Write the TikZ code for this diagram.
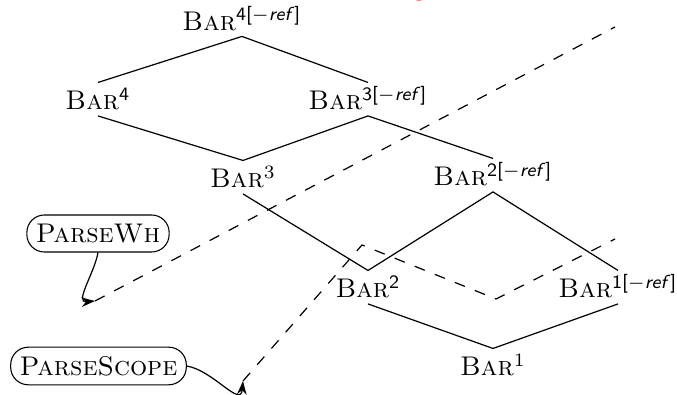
\documentclass[tikz,border=0pt]{standalone}
\usepackage{amsmath}
\usetikzlibrary{arrows.meta}
\newcommand{\Barx}[1]{\textsc{Bar}$^{#1}$}
\newcommand{\rsup}[1]{\textsf{#1[$-$\textit{ref}]}}
\begin{document}
\begin{tikzpicture}[x=0.3704pt,y=-0.3704pt,
  barnode/.style={anchor=base,inner sep=2pt,text height=8pt,text depth=0pt},
  callout/.style={draw,rounded corners=6.5pt,inner sep=3.33pt},
  solidedge/.style={line width=0.45pt},
  dashedge/.style={line width=0.45pt,dash pattern=on 4pt off 4pt},
  pointer/.style={line width=0.45pt,-{Stealth[length=5pt,width=3.5pt]}}]
\useasboundingbox (0,0) rectangle (677,395);
% cropped red title (only its descender is visible)
\node[red,anchor=base,inner sep=0pt] (ttl) at (419,-4.5) {g};
% nodes
\node[barnode] (b4r) at (242,30.5) {\Barx{\rsup{4}}};
\node[barnode] (b4)  at (98,110)   {\Barx{\textsf{4}}};
\node[barnode] (b3r) at (368,110)  {\Barx{\rsup{3}}};
\node[barnode] (b3)  at (243,188)  {\Barx{3}};
\node[barnode] (b2r) at (493,186)  {\Barx{\rsup{2}}};
\node[barnode] (b2)  at (368,298)  {\Barx{\textsf{2}}};
\node[barnode] (b1r) at (618,298)  {\Barx{\rsup{1}}};
\node[barnode] (b1)  at (493,376)  {\Barx{1}};
\node[callout] (wh) at (98,233.5) {\textsc{ParseWh}};
\node[callout] (sc) at (98.5,366) {\textsc{ParseScope}};
% solid lattice
\draw[solidedge] (b4.north) -- (b4r.south) -- (b3r.north);
\draw[solidedge] (b4.south) -- (b3.north) -- (b3r.south) -- (b2r.north);
\draw[solidedge] (b3.south) -- (b2.north) -- (b2r.south) -- (b1r.north);
\draw[solidedge] (b2.south) -- (b1.north) -- (b1r.south);
% dashed lines
\coordinate (w0) at (95,301);
\coordinate (w1) at (615,27);
\coordinate (s0) at (243,381);
\coordinate (s1) at (362,245);
\coordinate (s2) at (496,299);
\coordinate (s3) at (615,239);
\draw[dashedge] (w0) -- (w1);
\draw[dashedge] (s0) -- (s1) -- (s2) -- (s3);
% callout pointers
\draw[pointer] (wh.south) to[out=-100,in=185,looseness=1.1] (w0);
\draw[pointer] (sc.east) to[out=-10,in=-95,looseness=1.2] (s0);
\end{tikzpicture}
\end{document}
